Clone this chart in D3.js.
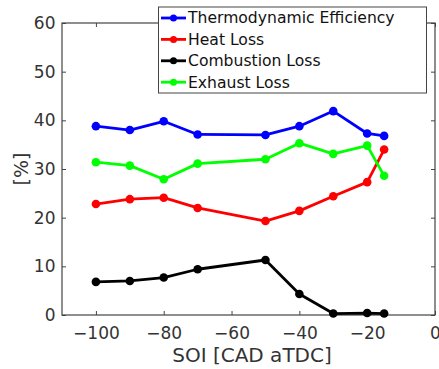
<!DOCTYPE html>
<html><head><meta charset="utf-8">
<script src="https://cdn.jsdelivr.net/npm/d3@7"></script>
<style>body{margin:0;background:#fff}svg{display:block}text{font-family:"DejaVu Sans",sans-serif}</style>
</head><body>
<svg id="c" width="439" height="369"></svg>
<script>
const soi = [-100, -90, -80, -70, -50, -40, -30, -20, -15];
const thermoEff = [38.8, 38.0, 39.8, 37.1, 37.0, 38.8, 41.9, 37.3, 36.8];
const heatLoss = [22.8, 23.8, 24.1, 22.0, 19.3, 21.4, 24.4, 27.3, 34.0];
const combLoss = [6.8, 7.0, 7.7, 9.4, 11.3, 4.3, 0.3, 0.4, 0.3];
const exhLoss = [31.4, 30.7, 27.9, 31.1, 32.0, 35.3, 33.1, 34.8, 28.6];
const seriesNames = ["Thermodynamic Efficiency", "Heat Loss", "Combustion Loss", "Exhaust Loss"];
const seriesColors = ["#0000ff", "#ff0000", "#000000", "#00ff00"];
const xTicks = [-100, -80, -60, -40, -20, 0];
const yTicks = [0, 10, 20, 30, 40, 50, 60];

const svg = d3.select("#c");
const L = 62, R = 435, T = 23, B = 315;
const x = d3.scaleLinear().domain([-110, 0]).range([L, R]);
const y = d3.scaleLinear().domain([0, 60]).range([B, T]);
const axCol = "#444";
const txtCol = "#333";

// axes
const gx = svg.append("g").attr("transform", `translate(0,${B})`)
  .call(d3.axisBottom(x).tickValues(xTicks).tickSizeInner(-4).tickSizeOuter(0).tickPadding(12).tickFormat(d3.format("d")));
const gy = svg.append("g").attr("transform", `translate(${L},0)`)
  .call(d3.axisLeft(y).tickValues(yTicks).tickSizeInner(-4).tickSizeOuter(0).tickPadding(6.5));
const gyr = svg.append("g").attr("transform", `translate(${R},0)`)
  .call(d3.axisRight(y).tickValues(yTicks).tickSizeInner(-4).tickSizeOuter(0).tickFormat(""));
const gxt = svg.append("g").attr("transform", `translate(0,${T})`)
  .call(d3.axisTop(x).tickValues(xTicks).tickSizeInner(-4).tickSizeOuter(0).tickFormat(""));
[gx, gy, gyr, gxt].forEach(g => {
  g.selectAll("path").remove();
  g.selectAll("line").attr("stroke", axCol).attr("stroke-width", 1);
  g.selectAll("text").attr("fill", txtCol).style("font-size", "17px");
});
gx.selectAll("text").attr("dy", "0.71em");
svg.append("rect").attr("x", L).attr("y", T).attr("width", R - L).attr("height", B - T)
  .attr("fill", "none").attr("stroke", axCol).attr("stroke-width", 1.2);

// labels
svg.append("text").attr("x", 252).attr("y", 362).attr("text-anchor", "middle")
  .attr("fill", txtCol).style("font-size", "20px").text("SOI [CAD aTDC]");
svg.append("text").attr("transform", `translate(28,169) rotate(-90)`).attr("text-anchor", "middle")
  .attr("fill", txtCol).style("font-size", "19px").text("[%]");

// series
const allSeries = [thermoEff, heatLoss, combLoss, exhLoss];
const line = d3.line().x((d, i) => x(soi[i])).y(d => y(d));
allSeries.forEach((vals, k) => {
  const g = svg.append("g");
  g.append("path").datum(vals).attr("d", line).attr("fill", "none")
    .attr("stroke", seriesColors[k]).attr("stroke-width", 2.8).attr("stroke-linejoin", "round");
  g.selectAll("circle").data(vals).join("circle")
    .attr("cx", (d, i) => x(soi[i])).attr("cy", d => y(d)).attr("r", 4.3)
    .attr("fill", seriesColors[k]);
});

// legend
const lg = svg.append("g");
lg.append("rect").attr("x", 158.5).attr("y", 7).attr("width", 268).attr("height", 86)
  .attr("fill", "#fff").attr("stroke", axCol).attr("stroke-width", 1);
seriesNames.forEach((n, k) => {
  const cy = 18 + k * 21.4;
  lg.append("line").attr("x1", 161).attr("x2", 186).attr("y1", cy).attr("y2", cy)
    .attr("stroke", seriesColors[k]).attr("stroke-width", 2.8);
  lg.append("circle").attr("cx", 173.5).attr("cy", cy).attr("r", 3.5).attr("fill", seriesColors[k]);
  lg.append("text").attr("x", 188).attr("y", cy).attr("dy", "0.35em").attr("fill", "#111")
    .style("font-size", "15.6px").text(n);
});
</script>
</body></html>
